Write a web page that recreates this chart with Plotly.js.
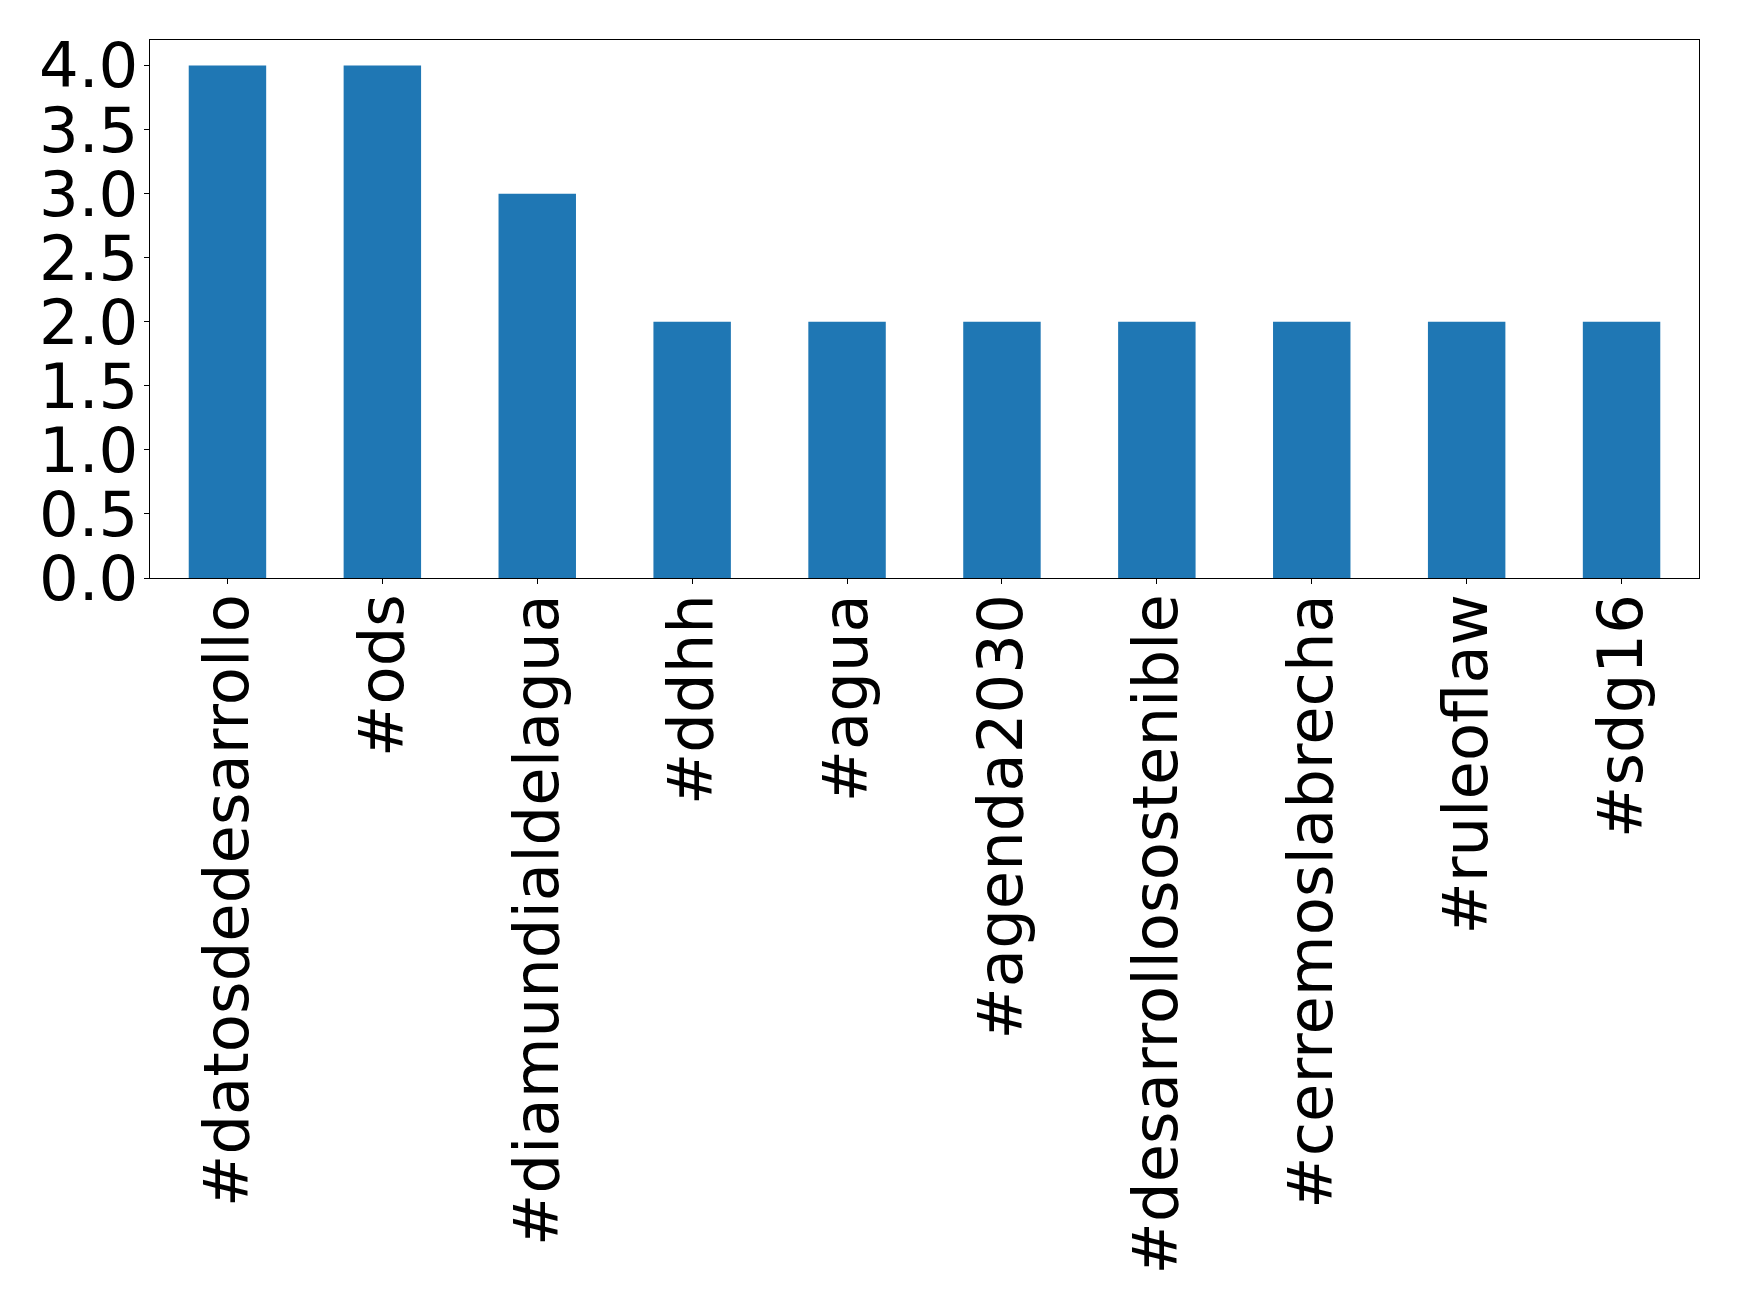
<!DOCTYPE html>
<html>
<head>
<meta charset="utf-8">
<script src="https://cdn.plot.ly/plotly-3.0.1.min.js"></script>
<style>html,body{margin:0;padding:0;background:#fff;}#chart{width:1739px;height:1308px;}</style>
</head>
<body>
<div id="chart"></div>
<script>
const categories = ["#datosdedesarrollo", "#ods", "#diamundialdelagua", "#ddhh", "#agua", "#agenda2030", "#desarrollosostenible", "#cerremoslabrecha", "#ruleoflaw", "#sdg16"];
const counts = [4, 4, 3, 2, 2, 2, 2, 2, 2, 2];
const yTickVals = [0, 0.5, 1, 1.5, 2, 2.5, 3, 3.5, 4];
const yTickText = ["0.0", "0.5", "1.0", "1.5", "2.0", "2.5", "3.0", "3.5", "4.0"];

const trace = {
  type: "bar",
  x: categories,
  y: counts,
  width: 0.5,
  marker: {color: "#1f77b4", line: {width: 0}},
  hoverinfo: "x+y"
};

const font = {family: "DejaVu Sans, Verdana, sans-serif", size: 62.5, color: "#000"};

const layout = {
  width: 1739,
  height: 1308,
  margin: {l: 150, r: 40, t: 40, b: 730, pad: 0},
  paper_bgcolor: "#fff",
  plot_bgcolor: "#fff",
  showlegend: false,
  font: font,
  xaxis: {
    type: "category",
    range: [-0.5, 9.5],
    tickangle: -90,
    ticks: "outside",
    ticklen: 5,
    tickwidth: 1,
    tickcolor: "#000",
    showline: true,
    linecolor: "#000",
    linewidth: 1.1,
    mirror: true,
    showgrid: false,
    zeroline: false,
    tickfont: font,
    ticklabelstandoff: -15
  },
  yaxis: {
    range: [0, 4.2],
    tickvals: yTickVals,
    ticktext: yTickText,
    ticks: "outside",
    ticklen: 5,
    tickwidth: 1,
    tickcolor: "#000",
    showline: true,
    linecolor: "#000",
    linewidth: 1.1,
    mirror: true,
    showgrid: false,
    zeroline: false,
    tickfont: font,
    ticklabelstandoff: -7
  }
};

Plotly.newPlot("chart", [trace], layout, {displayModeBar: false, staticPlot: true});
</script>
</body>
</html>
